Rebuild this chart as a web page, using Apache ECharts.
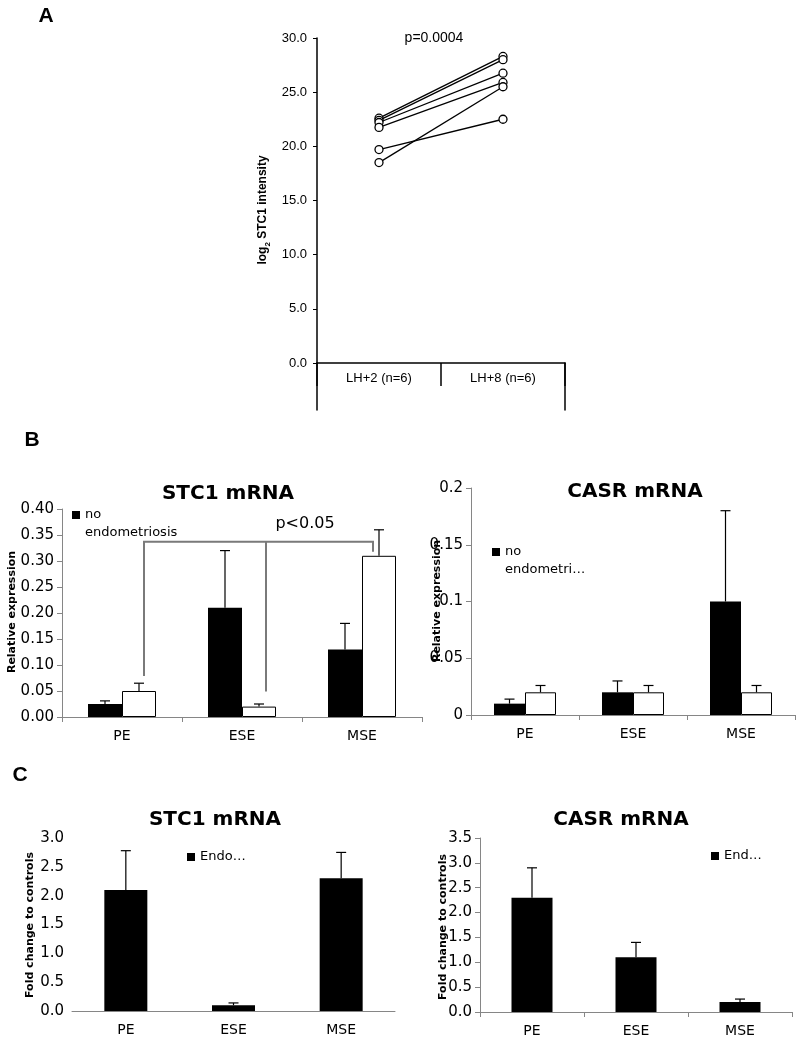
<!DOCTYPE html>
<html>
<head>
<meta charset="utf-8">
<script src="https://cdn.jsdelivr.net/npm/echarts@6/dist/echarts.min.js"></script>
<style>html,body{margin:0;padding:0;background:#fff}#c{width:800px;height:1042px}</style>
</head>
<body>
<div id="c"></div>
<script>
// ---- Panel A data ----
const aCategories = ['LH+2 (n=6)', 'LH+8 (n=6)'];
const aLH2 = [22.6, 22.4, 22.2, 21.75, 19.7, 18.5];
const aLH8 = [28.3, 28.0, 26.75, 25.9, 22.5, 25.5];
const aTicks = [0, 5, 10, 15, 20, 25, 30];
const aPValue = 'p=0.0004';

// ---- Panel B/C data ----
const tissues = ['PE', 'ESE', 'MSE'];
const bStcNoEndo = [0.025, 0.21, 0.13];
const bStcNoEndoErr = [0.031, 0.32, 0.18];
const bStcEndo = [0.05, 0.02, 0.31];
const bStcEndoErr = [0.065, 0.025, 0.36];
const bStcBracketTop = 0.337;
const bStcBracketEnds = [0.079, 0.049, 0.318];
const bStcP = 'p<0.05';

const bCasrNoEndo = [0.01, 0.02, 0.1];
const bCasrNoEndoErr = [0.014, 0.03, 0.18];
const bCasrEndo = [0.02, 0.02, 0.02];
const bCasrEndoErr = [0.026, 0.026, 0.026];

const cStc = [2.1, 0.1, 2.3];
const cStcErr = [2.78, 0.14, 2.75];
const cCasr = [2.3, 1.1, 0.2];
const cCasrErr = [2.9, 1.4, 0.26];

const FONT = 'DejaVu Sans';
const ARIAL = 'Liberation Sans, Arial';
const GRAY = '#868686';

function errSeries(gi, vals, errs, offset, cap) {
  return {
    type: 'custom', xAxisIndex: gi, yAxisIndex: gi, z: 5, silent: true,
    data: vals.map((v, i) => [i, v, errs[i]]),
    encode: { x: 0, y: [1, 2] },
    renderItem: function (params, api) {
      const p0 = api.coord([api.value(0), api.value(1)]);
      const p1 = api.coord([api.value(0), api.value(2)]);
      const x = p0[0] + offset;
      const st = { stroke: '#000', lineWidth: 1.2 };
      return { type: 'group', children: [
        { type: 'line', shape: { x1: x, y1: p0[1], x2: x, y2: p1[1] }, style: st },
        { type: 'line', shape: { x1: x - cap, y1: p1[1], x2: x + cap, y2: p1[1] }, style: st }
      ]};
    }
  };
}

function barSeries(gi, name, vals, width, white) {
  return {
    type: 'bar', name: name, xAxisIndex: gi, yAxisIndex: gi, data: vals,
    barWidth: width, barGap: '0%', silent: true,
    itemStyle: white ? { color: '#fff', borderColor: '#000', borderWidth: 1 } : { color: '#000' }
  };
}

function catAxis(gi, ticks) {
  return {
    type: 'category', gridIndex: gi, data: tissues,
    axisLine: { show: true, lineStyle: { color: GRAY, width: 1 } },
    axisTick: { show: ticks, length: 5, interval: 0, lineStyle: { color: GRAY } },
    axisLabel: { color: '#000', fontFamily: FONT, fontSize: 14, margin: 12 }
  };
}

function valAxis(gi, max, interval, fmt, line) {
  return {
    type: 'value', gridIndex: gi, min: 0, max: max, interval: interval,
    axisLine: { show: line, lineStyle: { color: GRAY, width: 1 } },
    axisTick: { show: line, length: 5, lineStyle: { color: GRAY } },
    splitLine: { show: false },
    axisLabel: { color: '#000', fontFamily: FONT, fontSize: 15, margin: 8, formatter: fmt }
  };
}

const series = [];
aLH2.forEach((v, i) => {
  series.push({
    type: 'line', xAxisIndex: 0, yAxisIndex: 0, data: [v, aLH8[i]],
    symbol: 'circle', symbolSize: 8, silent: true,
    itemStyle: { color: '#fff', borderColor: '#000', borderWidth: 1.3 },
    lineStyle: { color: '#000', width: 1.3 }
  });
});

// B left
series.push(barSeries(2, 'no endometriosis', bStcNoEndo, 34, false));
series.push(barSeries(2, 'endometriosis', bStcEndo, 34, true));
series.push(errSeries(2, bStcNoEndo, bStcNoEndoErr, -17, 5));
series.push(errSeries(2, bStcEndo, bStcEndoErr, 17, 5));
series.push({
  type: 'custom', xAxisIndex: 2, yAxisIndex: 2, z: 6, silent: true,
  data: [[0, bStcBracketTop, bStcBracketEnds[0], bStcBracketEnds[1], bStcBracketEnds[2]]],
  renderItem: function (params, api) {
    const top = api.value(1);
    const offs = [22, 24, 11];
    const pts = [0, 1, 2].map(k => {
      const t = api.coord([k, top]);
      const b = api.coord([k, api.value(2 + k)]);
      return { x: t[0] + offs[k], yt: t[1], yb: b[1] };
    });
    const st = { stroke: '#7a7a7a', lineWidth: 2, fill: null };
    return { type: 'group', children: [
      { type: 'polyline', shape: { points: [[pts[0].x, pts[0].yb], [pts[0].x, pts[0].yt], [pts[2].x, pts[2].yt], [pts[2].x, pts[2].yb]] }, style: st },
      { type: 'line', shape: { x1: pts[1].x, y1: pts[1].yt, x2: pts[1].x, y2: pts[1].yb }, style: st }
    ]};
  }
});

// B right
series.push(barSeries(3, 'no endometriosis', bCasrNoEndo, 31, false));
series.push(barSeries(3, 'endometriosis', bCasrEndo, 31, true));
series.push(errSeries(3, bCasrNoEndo, bCasrNoEndoErr, -15.5, 5));
series.push(errSeries(3, bCasrEndo, bCasrEndoErr, 15.5, 5));

// C left
series.push(barSeries(4, 'Endometriosis', cStc, 43, false));
series.push(errSeries(4, cStc, cStcErr, 0, 5));
// C right
series.push(barSeries(5, 'Endometriosis', cCasr, 41, false));
series.push(errSeries(5, cCasr, cCasrErr, 0, 5));

function txt(x, y, text, font, size, weight, rot, align) {
  return {
    type: 'text', x: x, y: y, rotation: rot || 0, silent: true,
    style: { text: text, fontFamily: font, fontSize: size, fontWeight: weight || 'normal',
      fill: '#000', align: align || 'center', verticalAlign: 'middle' }
  };
}

const legendBase = {
  orient: 'vertical', padding: 0, icon: 'rect', itemWidth: 8, itemHeight: 8, itemGap: 5,
  selectedMode: false
};

const option = {
  animation: false,
  backgroundColor: '#fff',
  grid: [
    { left: 317, top: 38, width: 248, height: 325 },
    { left: 317, top: 363, width: 248, height: 47 },
    { left: 62, top: 509, width: 360, height: 208 },
    { left: 471, top: 488, width: 324, height: 227 },
    { left: 72, top: 838, width: 323, height: 173 },
    { left: 480, top: 838, width: 312, height: 174 }
  ],
  xAxis: [
    {
      type: 'category', gridIndex: 0, data: aCategories,
      axisLine: { show: true, lineStyle: { color: '#000', width: 1.5 } },
      axisTick: { show: true, length: 23, interval: 0, lineStyle: { color: '#000', width: 1.5 } },
      axisLabel: { color: '#000', fontFamily: ARIAL, fontSize: 13, margin: 9 }
    },
    { type: 'value', gridIndex: 1, show: false, min: 0, max: 1 },
    catAxis(2, true),
    catAxis(3, true),
    catAxis(4, false),
    catAxis(5, true)
  ],
  yAxis: [
    {
      type: 'value', gridIndex: 0, min: 0, max: 30, interval: 5,
      axisLine: { show: true, onZero: false, lineStyle: { color: '#000', width: 1.5 } },
      axisTick: { show: true, length: 4, lineStyle: { color: '#000' } },
      axisLabel: { color: '#000', fontFamily: ARIAL, fontSize: 13, margin: 10,
        formatter: v => v.toFixed(1) },
      splitLine: { show: false }
    },
    {
      type: 'value', gridIndex: 1, position: 'left', min: 0, max: 1,
      axisLine: { show: true, onZero: false, lineStyle: { color: '#000', width: 1.5 } },
      axisTick: { show: false }, axisLabel: { show: false }, splitLine: { show: false }
    },
    valAxis(2, 0.4, 0.05, v => v.toFixed(2), true),
    valAxis(3, 0.2, 0.05, v => String(+v.toFixed(2)), true),
    valAxis(4, 3, 0.5, v => v.toFixed(1), false),
    valAxis(5, 3.5, 0.5, v => v.toFixed(1), true),
    {
      type: 'value', gridIndex: 1, position: 'right', min: 0, max: 1,
      axisLine: { show: true, onZero: false, lineStyle: { color: '#000', width: 1.5 } },
      axisTick: { show: false }, axisLabel: { show: false }, splitLine: { show: false }
    }
  ],
  legend: [
    Object.assign({}, legendBase, { left: 72, top: 488, data: ['no endometriosis'],
      formatter: () => '\nno\nendometriosis',
      textStyle: { fontFamily: FONT, fontSize: 13, lineHeight: 18, color: '#000' } }),
    Object.assign({}, legendBase, { left: 492, top: 525, data: ['no endometriosis'],
      formatter: () => '\nno\nendometri…',
      textStyle: { fontFamily: FONT, fontSize: 13, lineHeight: 18, color: '#000' } }),
    Object.assign({}, legendBase, { left: 187, top: 848, data: ['Endometriosis'],
      formatter: () => 'Endo…',
      textStyle: { fontFamily: FONT, fontSize: 13, lineHeight: 18, color: '#000' } }),
    Object.assign({}, legendBase, { left: 711, top: 847, data: ['Endometriosis'],
      formatter: () => 'End…',
      textStyle: { fontFamily: FONT, fontSize: 13, lineHeight: 18, color: '#000' } })
  ],
  graphic: [
    txt(46, 16, 'A', ARIAL, 21, 'bold'),
    txt(32, 440, 'B', ARIAL, 21, 'bold'),
    txt(20, 775, 'C', ARIAL, 21, 'bold'),
    txt(434, 38, aPValue, ARIAL, 14),
    {
      type: 'text', x: 263, y: 210, rotation: Math.PI / 2, silent: true,
      style: {
        text: '{a|log}{s|2}{a| STC1 intensity}', align: 'center', verticalAlign: 'middle',
        rich: {
          a: { fontFamily: ARIAL, fontSize: 12, fontWeight: 'bold', fill: '#000', verticalAlign: 'bottom' },
          s: { fontFamily: ARIAL, fontSize: 8, fontWeight: 'bold', fill: '#000', verticalAlign: 'bottom', padding: [0, 0, -3, 0] }
        }
      }
    },
    txt(228, 494, 'STC1 mRNA', FONT, 20, 'bold'),
    txt(635, 492, 'CASR mRNA', FONT, 20, 'bold'),
    txt(215, 820, 'STC1 mRNA', FONT, 20, 'bold'),
    txt(621, 820, 'CASR mRNA', FONT, 20, 'bold'),
    txt(305, 524, bStcP, FONT, 16),
    txt(12, 612, 'Relative expression', FONT, 11, 'bold', Math.PI / 2),
    txt(437, 601, 'Relative expression', FONT, 11, 'bold', Math.PI / 2),
    txt(30, 925, 'Fold change to controls', FONT, 11, 'bold', Math.PI / 2),
    txt(443, 927, 'Fold change to controls', FONT, 11, 'bold', Math.PI / 2)
  ],
  series: series
};

const chart = echarts.init(document.getElementById('c'), null, { renderer: 'canvas' });
chart.setOption(option);
</script>
</body>
</html>
